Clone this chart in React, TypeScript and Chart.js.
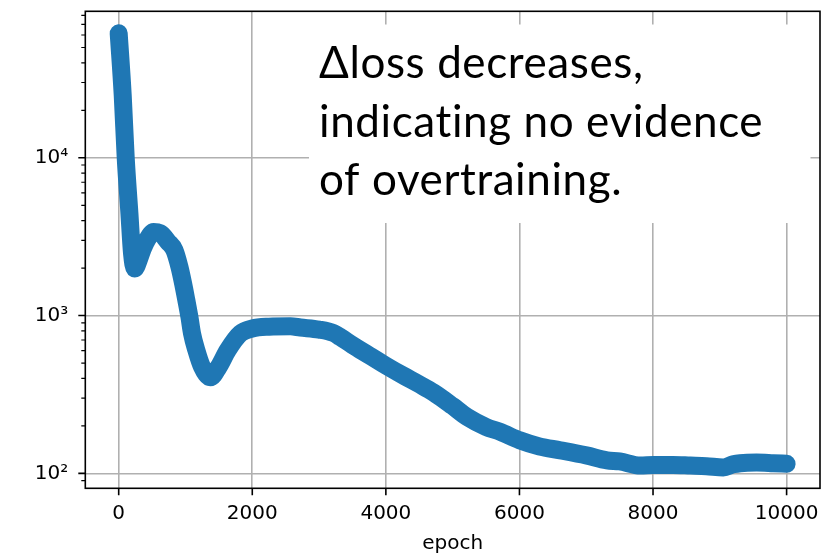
import React, { useEffect, useRef } from "react";
import { Chart, registerables } from "chart.js";

Chart.register(...registerables);

// ---- data ----
const epochs = [0, 60, 105, 160, 200, 240, 300, 360, 430, 524, 620, 740, 834, 909, 964, 1013, 1058, 1098, 1163, 1248, 1373, 1497, 1632, 1822, 2000, 2250, 2570, 2720, 3000, 3215, 3320, 3500, 3750, 4007, 4250, 4500, 4716, 5000, 5215, 5500, 5714, 6003, 6300, 6612, 7000, 7311, 7500, 7810, 8010, 8300, 8558, 8800, 9052, 9200, 9306, 9550, 9800, 10000];
const deltaLoss = [61500, 25000, 10000, 4480, 2470, 1990, 2250, 2650, 3050, 3380, 3330, 2930, 2600, 2040, 1600, 1250, 985, 770, 603, 473, 406, 473, 603, 770, 828, 850, 855, 840, 815, 775, 730, 650, 560, 480, 419, 367, 325, 267, 228, 197, 183, 162, 148, 140, 130, 121, 119, 112, 113, 113, 112, 111, 109, 114, 116, 117, 116, 115];

const xTickValues = [0, 2000, 4000, 6000, 8000, 10000];
const yTickValues = [100, 1000, 10000];
const yTickLabels = ["10²", "10³", "10⁴"];
const yMinorTicks = [90, 200, 300, 400, 500, 600, 700, 800, 900, 2000, 3000, 4000, 5000, 6000, 7000, 8000, 9000, 20000, 30000, 40000, 50000, 60000, 70000, 80000];
const annotationLines = ["Δloss decreases,", "indicating no evidence", "of overtraining."];
const xTitle = "epoch";

const frameTicksPlugin = {
  id: "frameTicks",
  afterDraw(chart: any) {
    const { ctx, chartArea, scales } = chart;
    const { left, right, top, bottom } = chartArea;
    const xs = scales.x;
    const ys = scales.y;
    ctx.save();
    ctx.strokeStyle = "#000";
    ctx.lineCap = "butt";
    ctx.lineWidth = 1.6;
    ctx.beginPath();
    xTickValues.forEach((v) => {
      const px = xs.getPixelForValue(v);
      ctx.moveTo(px, bottom);
      ctx.lineTo(px, bottom + 7);
    });
    yTickValues.forEach((v) => {
      const py = ys.getPixelForValue(v);
      ctx.moveTo(left, py);
      ctx.lineTo(left - 7, py);
    });
    ctx.stroke();
    ctx.lineWidth = 1.2;
    ctx.beginPath();
    yMinorTicks.forEach((v) => {
      const py = ys.getPixelForValue(v);
      ctx.moveTo(left, py);
      ctx.lineTo(left - 4, py);
    });
    ctx.stroke();
    ctx.lineWidth = 1.6;
    ctx.strokeRect(left, top, right - left, bottom - top);
    ctx.restore();
  },
};

const textBoxPlugin = {
  id: "textBox",
  afterDatasetsDraw(chart: any) {
    const { ctx } = chart;
    ctx.save();
    ctx.fillStyle = "#fff";
    ctx.fillRect(309, 24.5, 501.5, 198.5);
    ctx.fillStyle = "#000";
    ctx.font = "44px Lato";
    (ctx as any).letterSpacing = "0.6px";
    ctx.textAlign = "left";
    ctx.textBaseline = "alphabetic";
    const baselines = [78, 137, 195];
    annotationLines.forEach((t, i) => ctx.fillText(t, 319, baselines[i]));
    ctx.restore();
  },
};

export default function App() {
  const ref = useRef<HTMLCanvasElement | null>(null);
  useEffect(() => {
    if (!ref.current) return;
    const chart = new Chart(ref.current, {
      type: "line",
      data: {
        datasets: [
          {
            data: epochs.map((e, i) => ({ x: e, y: deltaLoss[i] })),
            borderColor: "#1f77b4",
            backgroundColor: "#1f77b4",
            borderWidth: 18,
            borderCapStyle: "round",
            borderJoinStyle: "round",
            cubicInterpolationMode: "monotone",
            pointRadius: 0,
            fill: false,
          },
        ],
      },
      options: {
        responsive: false,
        animation: false,
        events: [],
        layout: { padding: { left: 0, right: 15, top: 11.3, bottom: 0 } },
        plugins: { legend: { display: false }, tooltip: { enabled: false }, title: { display: false } },
        scales: {
          x: {
            type: "linear",
            min: -500,
            max: 10500,
            afterBuildTicks: (s: any) => {
              s.ticks = xTickValues.map((v) => ({ value: v }));
            },
            afterFit: (s: any) => {
              s.height = 65.7;
              s.paddingLeft = 0;
              s.paddingRight = 0;
            },
            grid: { color: "#b0b0b0", lineWidth: 1.6, drawTicks: false },
            border: { display: false },
            ticks: {
              padding: 13,
              maxRotation: 0,
              autoSkip: false,
              color: "#000",
              font: { family: "DejaVu Sans", size: 20 },
              callback: (v: any) => String(v),
            },
            title: {
              display: true,
              text: xTitle,
              color: "#000",
              font: { family: "DejaVu Sans", size: 20, lineHeight: 1.0 },
              padding: 0,
            },
          },
          y: {
            type: "logarithmic",
            min: 80.4,
            max: 84800,
            afterBuildTicks: (s: any) => {
              s.ticks = yTickValues.map((v) => ({ value: v }));
            },
            afterFit: (s: any) => {
              s.width = 85.3;
              s.paddingTop = 0;
              s.paddingBottom = 0;
            },
            grid: { color: "#b0b0b0", lineWidth: 1.6, drawTicks: false },
            border: { display: false },
            ticks: {
              padding: 17,
              autoSkip: false,
              color: "#000",
              font: { family: "DejaVu Sans", size: 20 },
              callback: (v: any) => {
                const i = yTickValues.indexOf(Number(v));
                return i >= 0 ? yTickLabels[i] : "";
              },
            },
          },
        },
      },
      plugins: [textBoxPlugin, frameTicksPlugin],
    } as any);
    return () => chart.destroy();
  }, []);
  return (
    <div style={{ position: "fixed", left: 0, top: 0, width: 835, height: 554, background: "#fff" }}>
      <canvas ref={ref} width={835} height={554} style={{ display: "block" }} />
    </div>
  );
}
